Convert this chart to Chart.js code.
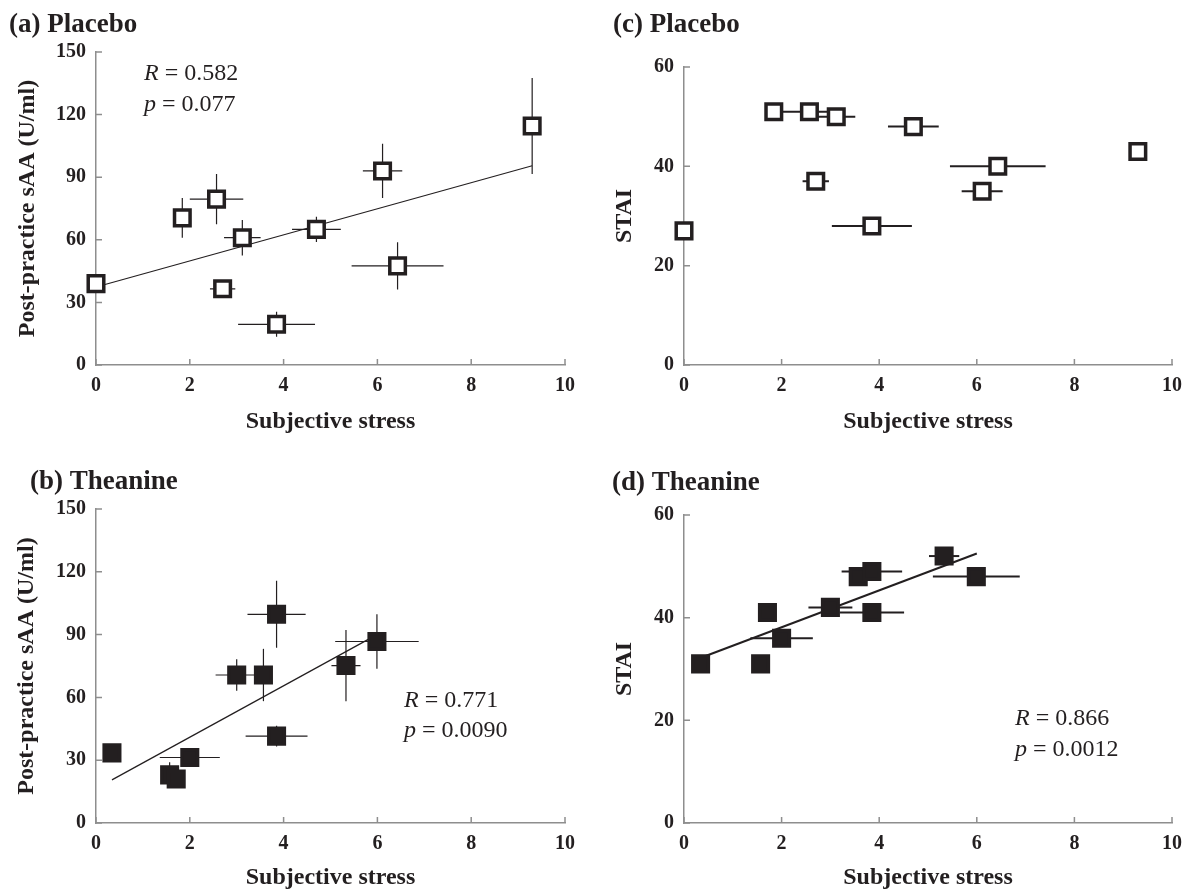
<!DOCTYPE html>
<html>
<head>
<meta charset="utf-8">
<script src="https://cdn.jsdelivr.net/npm/chart.js@4.4.1/dist/chart.umd.min.js"></script>
<style>
  body { margin: 0; background: #fff; width: 1191px; height: 892px; position: relative; overflow: hidden; }
  canvas { position: absolute; }
</style>
</head>
<body>
<canvas id="panelA" width="595" height="446" style="left:0;top:0"></canvas>
<canvas id="panelC" width="596" height="446" style="left:595px;top:0"></canvas>
<canvas id="panelB" width="595" height="446" style="left:0;top:446px"></canvas>
<canvas id="panelD" width="596" height="446" style="left:595px;top:446px"></canvas>
<script>
// placebo group (same subjects in a and c)
const placeboStress    = [0, 1.84, 2.57, 3.12, 2.70, 3.85, 4.70, 6.11, 6.43, 9.30];
const placeboStressErr = [0, 0, 0.57, 0.39, 0.27, 0.82, 0.52, 0.42, 0.98, 0];
const placeboSAA       = [39, 70.5, 79.5, 61, 36.5, 19.5, 65, 93, 47.5, 114.5];
const placeboSAAErr    = [0, 9.5, 12, 8.5, 2, 6, 6, 13, 11.3, 23];
const placeboSTAI      = [27, 51, 51, 50, 37, 28, 48, 35, 40, 43];

// theanine group (same subjects in b and d)
const theanineStress    = [0.34, 1.57, 1.71, 2.0, 3.0, 3.57, 3.85, 3.85, 5.33, 5.99];
const theanineStressErr = [0, 0, 0, 0.64, 0.45, 0, 0.62, 0.66, 0.31, 0.89];
const theanineSAA       = [33.5, 23, 21, 31.3, 70.7, 70.7, 99.7, 41.5, 75.2, 86.7];
const theanineSAAErr    = [0, 6, 0, 0, 7.5, 12.5, 16, 5, 17, 13];
const theanineSTAI      = [31, 31, 41, 36, 42, 48, 49, 41, 52, 48];

// regression lines (end points)
const fitA_x = [0, 9.3],     fitA_y = [37.4, 95.5];
const fitB_x = [0.34, 5.99], fitB_y = [20.6, 90];
const fitD_x = [0.32, 6.0],  fitD_y = [32.1, 52.5];

const stressTicks = [0, 2, 4, 6, 8, 10];
const saaTicks = [0, 30, 60, 90, 120, 150];
const staiTicks = [0, 20, 40, 60];

const INK = '#231f20';
const AXIS = '#8e8e8e';
const SERIF = "'Liberation Serif', 'Times New Roman', serif";

const toPoints = (xs, ys) => xs.map((x, i) => ({ x: x, y: ys[i] }));

// error bars, drawn under the markers
const errorBars = {
  id: 'errorBars',
  beforeDatasetsDraw(chart, args, opts) {
    const { ctx, scales: { x, y } } = chart;
    ctx.save();
    ctx.strokeStyle = INK;
    ctx.lineWidth = opts.width || 1.2;
    opts.xs.forEach((xv, i) => {
      const yv = opts.ys[i];
      const px = x.getPixelForValue(xv), py = y.getPixelForValue(yv);
      const ex = opts.xErr ? opts.xErr[i] : 0;
      const ey = opts.yErr ? opts.yErr[i] : 0;
      ctx.beginPath();
      if (ex) {
        ctx.moveTo(x.getPixelForValue(xv - ex), py);
        ctx.lineTo(x.getPixelForValue(xv + ex), py);
      }
      if (ey) {
        ctx.moveTo(px, y.getPixelForValue(yv - ey));
        ctx.lineTo(px, y.getPixelForValue(yv + ey));
      }
      ctx.stroke();
    });
    ctx.restore();
  }
};

// small tick marks pointing into the plot
const innerTicks = {
  id: 'innerTicks',
  afterDraw(chart) {
    const { ctx, scales: { x, y } } = chart;
    ctx.save();
    ctx.strokeStyle = AXIS;
    ctx.lineWidth = 1.5;
    ctx.beginPath();
    x.ticks.forEach(t => {
      const px = x.getPixelForValue(t.value);
      ctx.moveTo(px, x.top); ctx.lineTo(px, x.top - 6);
    });
    y.ticks.forEach(t => {
      const py = y.getPixelForValue(t.value);
      ctx.moveTo(y.right, py); ctx.lineTo(y.right + 6, py);
    });
    ctx.stroke();
    ctx.restore();
  }
};

// panel label and R / p text
const panelText = {
  id: 'panelText',
  afterDraw(chart, args, opts) {
    const ctx = chart.ctx;
    ctx.save();
    ctx.fillStyle = INK;
    ctx.textBaseline = 'alphabetic';
    ctx.textAlign = 'left';
    ctx.font = 'bold 27px ' + SERIF;
    ctx.fillText(opts.label, opts.labelX, opts.labelY);
    (opts.stats || []).forEach(s => {
      ctx.font = 'italic 24px ' + SERIF;
      ctx.fillText(s.sym, s.x, s.y);
      const w = ctx.measureText(s.sym).width;
      ctx.font = '24px ' + SERIF;
      ctx.fillText(s.text, s.x + w, s.y);
    });
    ctx.restore();
  }
};

function makePanel(id, cfg) {
  const datasets = [{
    data: toPoints(cfg.xs, cfg.ys),
    showLine: false,
    pointStyle: 'rect',
    pointRadius: 11,
    pointHoverRadius: 11,
    pointBorderWidth: 3.5,
    pointBorderColor: INK,
    pointBackgroundColor: cfg.filled ? INK : '#ffffff',
    clip: false,
    order: 0
  }];
  if (cfg.fitX) {
    datasets.push({
      data: toPoints(cfg.fitX, cfg.fitY),
      showLine: true,
      pointRadius: 0,
      borderColor: INK,
      borderWidth: cfg.fitWidth,
      clip: false,
      order: 1
    });
  }
  return new Chart(document.getElementById(id), {
    type: 'scatter',
    data: { datasets: datasets },
    options: {
      responsive: false,
      animation: false,
      layout: { padding: { top: cfg.top, right: cfg.right, left: 0, bottom: 0 } },
      plugins: {
        legend: { display: false },
        tooltip: { enabled: false },
        errorBars: { xs: cfg.xs, ys: cfg.ys, xErr: cfg.xErr, yErr: cfg.yErr, width: cfg.errWidth },
        panelText: { label: cfg.label, labelX: cfg.labelX, labelY: cfg.labelY, stats: cfg.stats }
      },
      scales: {
        x: {
          type: 'linear',
          min: 0, max: 10,
          afterBuildTicks: s => { s.ticks = stressTicks.map(v => ({ value: v })); },
          afterFit: s => { s.height = cfg.xHeight; },
          grid: { display: true, drawOnChartArea: false, drawTicks: false },
          border: { display: true, color: AXIS, width: 1.5 },
          ticks: { color: INK, padding: 9, font: { family: SERIF, size: 20, weight: 'bold' } },
          title: {
            display: true, text: 'Subjective stress', color: INK,
            font: { family: SERIF, size: 24, weight: 'bold' },
            padding: { top: 0, bottom: cfg.xTitlePad }
          }
        },
        y: {
          type: 'linear',
          min: 0, max: cfg.yTicks[cfg.yTicks.length - 1],
          afterBuildTicks: s => { s.ticks = cfg.yTicks.map(v => ({ value: v })); },
          afterFit: s => { s.width = cfg.left; },
          grid: { display: true, drawOnChartArea: false, drawTicks: false },
          border: { display: true, color: AXIS, width: 1.5 },
          ticks: { color: INK, padding: 10, font: { family: SERIF, size: 20, weight: 'bold' } },
          title: {
            display: true, text: cfg.yTitle, color: INK,
            font: { family: SERIF, size: 24, weight: 'bold' },
            padding: { top: cfg.yTitlePad, bottom: 0 }
          }
        }
      }
    },
    plugins: [errorBars, innerTicks, panelText]
  });
}

makePanel('panelA', {
  xs: placeboStress, ys: placeboSAA, xErr: placeboStressErr, yErr: placeboSAAErr,
  filled: false, fitX: fitA_x, fitY: fitA_y, fitWidth: 1.2, errWidth: 1.2,
  yTicks: saaTicks, yTitle: 'Post-practice sAA (U/ml)',
  top: 52, right: 30, left: 96, xHeight: 81, xTitlePad: 10, yTitlePad: 13,
  label: '(a) Placebo', labelX: 9, labelY: 32,
  stats: [{ sym: 'R', text: ' = 0.582', x: 144, y: 80 }, { sym: 'p', text: ' = 0.077', x: 144, y: 111 }]
});

makePanel('panelC', {
  xs: placeboStress, ys: placeboSTAI, xErr: placeboStressErr, yErr: null,
  filled: false, errWidth: 2,
  yTicks: staiTicks, yTitle: 'STAI',
  top: 67, right: 15, left: 89, xHeight: 81, xTitlePad: 10, yTitlePad: 15,
  label: '(c) Placebo', labelX: 18, labelY: 32,
  stats: []
});

makePanel('panelB', {
  xs: theanineStress, ys: theanineSAA, xErr: theanineStressErr, yErr: theanineSAAErr,
  filled: true, fitX: fitB_x, fitY: fitB_y, fitWidth: 1.2, errWidth: 1.2,
  yTicks: saaTicks, yTitle: 'Post-practice sAA (U/ml)',
  top: 63, right: 30, left: 96, xHeight: 69, xTitlePad: 0, yTitlePad: 12,
  label: '(b) Theanine', labelX: 30, labelY: 43,
  stats: [{ sym: 'R', text: ' = 0.771', x: 404, y: 261 }, { sym: 'p', text: ' = 0.0090', x: 404, y: 291 }]
});

makePanel('panelD', {
  xs: theanineStress, ys: theanineSTAI, xErr: theanineStressErr, yErr: null,
  filled: true, fitX: fitD_x, fitY: fitD_y, fitWidth: 2, errWidth: 2,
  yTicks: staiTicks, yTitle: 'STAI',
  top: 69, right: 16, left: 89, xHeight: 69, xTitlePad: 0, yTitlePad: 15,
  label: '(d) Theanine', labelX: 17, labelY: 44,
  stats: [{ sym: 'R', text: ' = 0.866', x: 420, y: 279 }, { sym: 'p', text: ' = 0.0012', x: 420, y: 310 }]
});
</script>
</body>
</html>
